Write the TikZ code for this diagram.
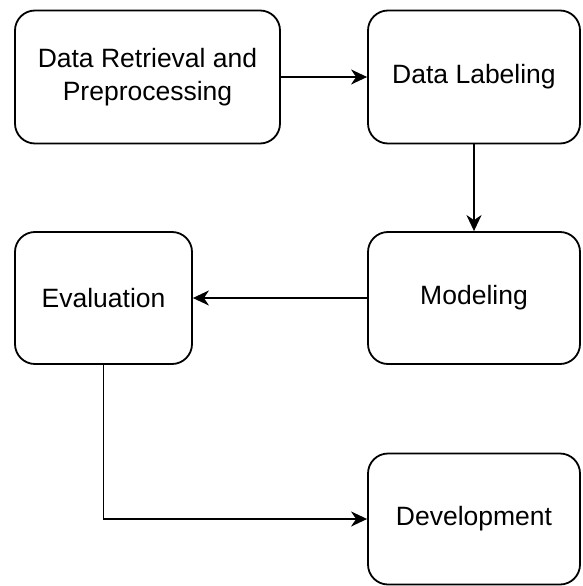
\documentclass[tikz,border=0pt]{standalone}
\usepackage{fontspec}
\setmainfont{Liberation Sans}
\usetikzlibrary{arrows.meta,positioning}

\tikzset{
  stagebox/.style={draw,line width=1.8pt,rounded corners=20pt,align=center,
    font=\fontsize{26.5}{33}\selectfont,inner sep=0pt},
  flow/.style={line width=1.8pt,-{Stealth[length=16pt,width=15pt,inset=5pt]}}
}

\begin{document}
\begin{tikzpicture}[x=1pt,y=-1pt]
\useasboundingbox (0,0) rectangle (582,586);
\node[stagebox,minimum width=265pt,minimum height=133pt] (retrieval) at (147.5,77) {Data Retrieval and\\Preprocessing};
\node[stagebox,minimum width=212pt,minimum height=133pt] (labeling) at (474,77) {Data Labeling};
\node[stagebox,minimum width=212pt,minimum height=132pt] (modeling) at (474,298) {Modeling};
\node[stagebox,minimum width=177pt,minimum height=132pt] (evaluation) at (103.5,298) {Evaluation};
\node[stagebox,minimum width=212pt,minimum height=131pt] (development) at (474,519) {Development};

\draw[flow] (retrieval) -- (labeling);
\draw[flow] (labeling) -- (modeling);
\draw[flow] (modeling) -- (evaluation);
\draw[flow] (evaluation.south) |- (development.west);
\end{tikzpicture}
\end{document}
